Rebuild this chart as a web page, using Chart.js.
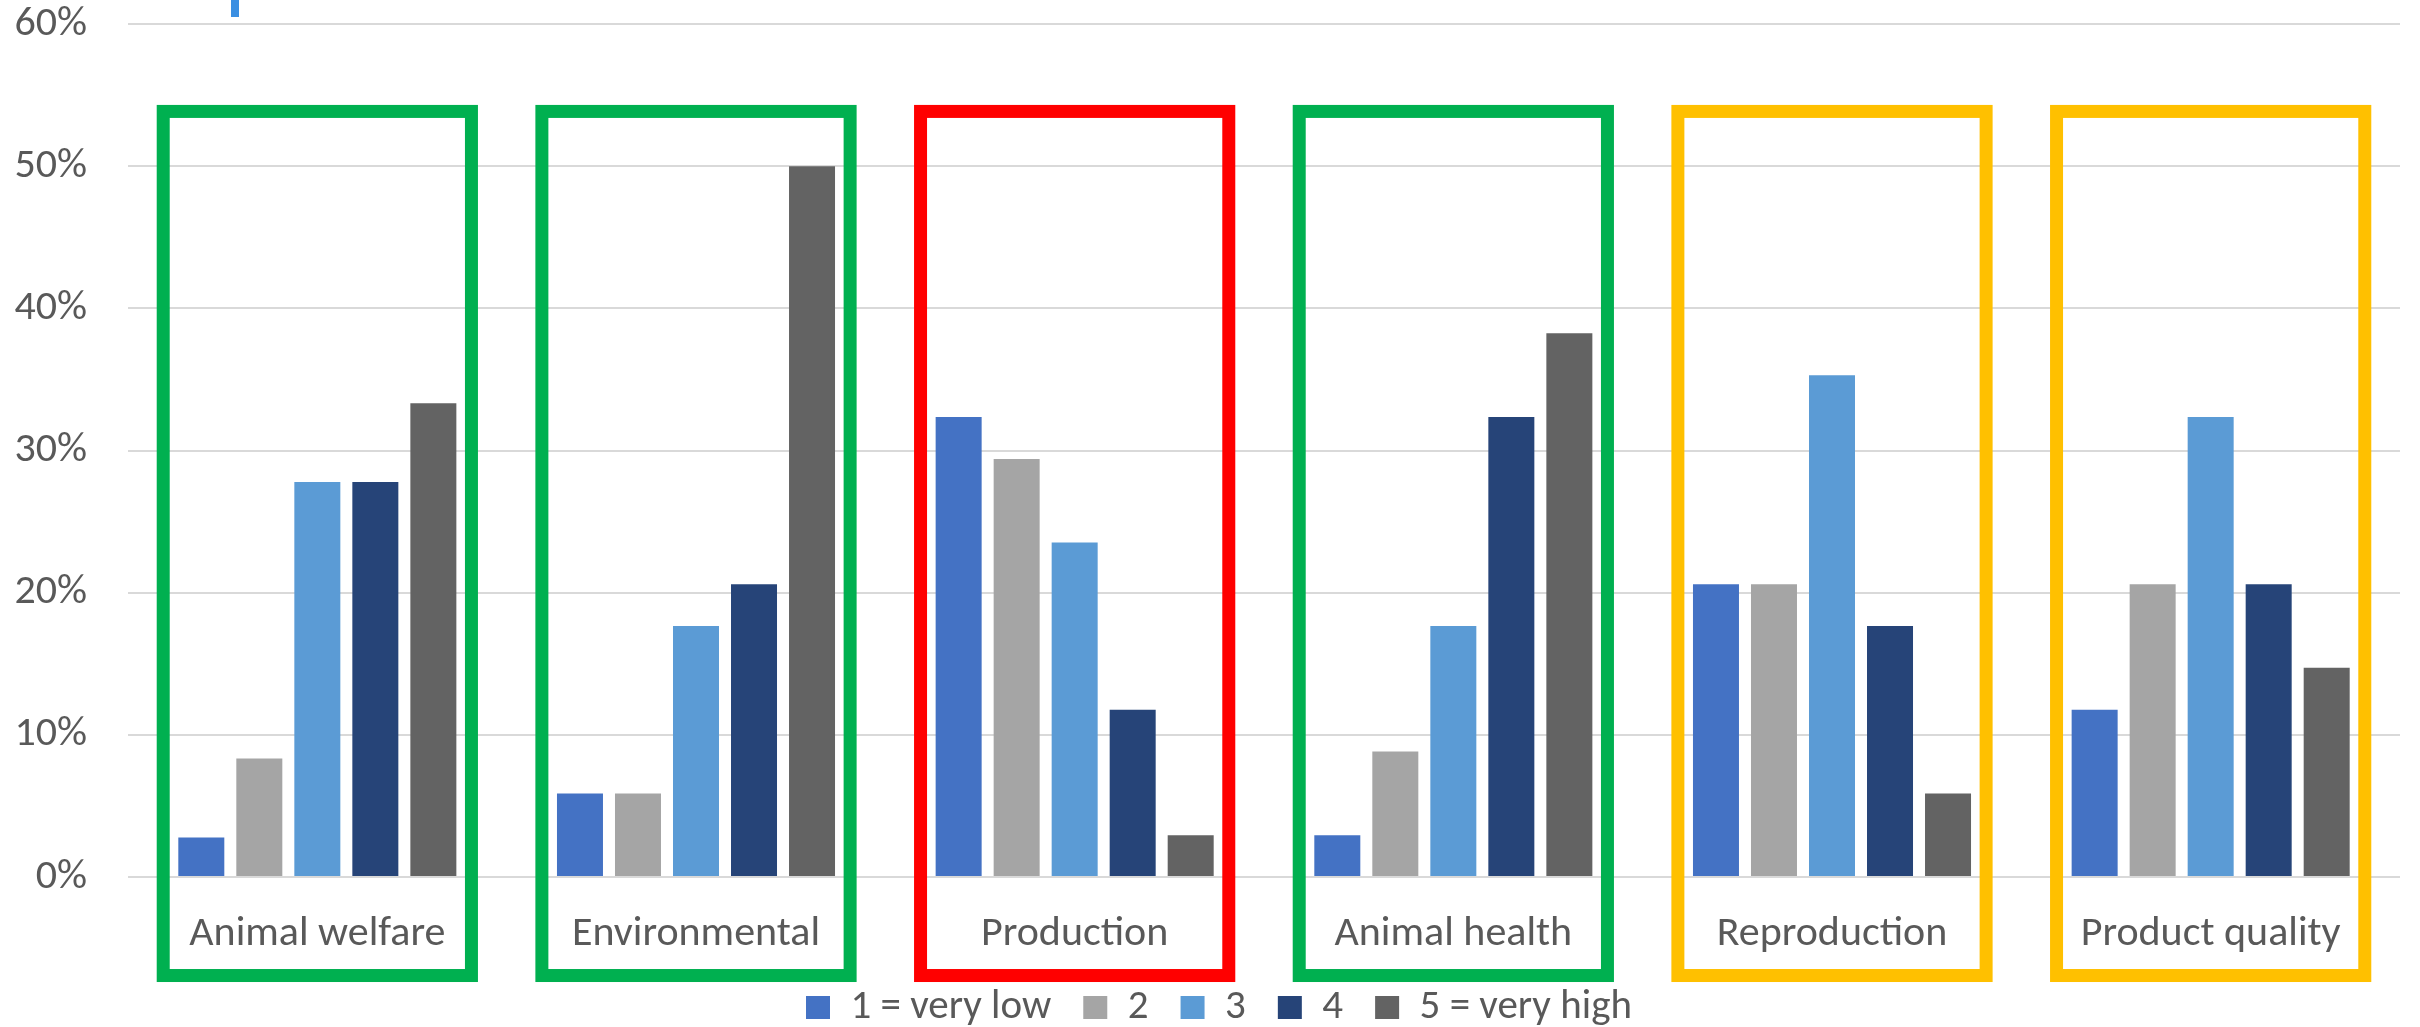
<!DOCTYPE html>
<html>
<head>
<meta charset="utf-8">
<script src="https://cdn.jsdelivr.net/npm/chart.js@4.4.1/dist/chart.umd.min.js"></script>
<style>
    html, body { margin: 0; padding: 0; background: #ffffff; }
    canvas { display: block; }
</style>
</head>
<body>
<canvas id="myChart" width="2420" height="1027"></canvas>
<script>
// categories (x axis) and rating levels (legend)
var categories = ["Animal welfare", "Environmental", "Production", "Animal health", "Reproduction", "Product quality"];
var seriesNames = ["1 = very low", "2", "3", "4", "5 = very high"];

// share of answers per rating, one array per rating level
var rating1 = [0.0278, 0.0588, 0.3235, 0.0294, 0.2059, 0.1176];
var rating2 = [0.0833, 0.0588, 0.2941, 0.0882, 0.2059, 0.2059];
var rating3 = [0.2778, 0.1765, 0.2353, 0.1765, 0.3529, 0.3235];
var rating4 = [0.2778, 0.2059, 0.1176, 0.3235, 0.1765, 0.2059];
var rating5 = [0.3333, 0.5000, 0.0294, 0.3824, 0.0588, 0.1471];

var yTickLabels = ["0%", "10%", "20%", "30%", "40%", "50%", "60%"];

var barColors = ["#4472C4", "#A5A5A5", "#5B9BD5", "#264478", "#636363"];
var boxColors = ["#00B050", "#00B050", "#FF0000", "#00B050", "#FFC000", "#FFC000"];

var textColor = "#595959";
var fontFamily = "Carlito, Calibri, 'Open Sans', sans-serif";

var series = [rating1, rating2, rating3, rating4, rating5];
var datasets = series.map(function (values, i) {
    return {
        label: seriesNames[i],
        data: values,
        backgroundColor: barColors[i],
        borderWidth: 0,
        categoryPercentage: 0.766,
        barPercentage: 0.793
    };
});

// coloured frames round every category, drawn from the scales
var boxPlugin = {
    id: "categoryBoxes",
    afterLayout: function (chart) {
        // legend sits a little right of the canvas centre
        chart.legend.left = 38;
    },
    afterDraw: function (chart) {
        var ctx = chart.ctx;
        var xs = chart.scales.x;
        var ys = chart.scales.y;
        var half = xs.width / categories.length * 0.407;
        var top = ys.getPixelForValue(0.5385);
        var bottom = ys.getPixelForValue(-0.0693);

        ctx.save();
        ctx.lineWidth = 13;
        ctx.lineJoin = "miter";
        for (var i = 0; i < categories.length; i++) {
            var cx = xs.getPixelForValue(i);
            ctx.strokeStyle = boxColors[i];
            ctx.strokeRect(cx - half, top, half * 2, bottom - top);
        }
        // small blue stub cut off at the top edge of the picture
        ctx.fillStyle = "#3B8FE2";
        ctx.fillRect(chart.chartArea.left + 103, 0, 8, 17);
        ctx.restore();
    }
};

new Chart(document.getElementById("myChart"), {
    type: "bar",
    data: {
        labels: categories,
        datasets: datasets
    },
    plugins: [boxPlugin],
    options: {
        responsive: false,
        animation: false,
        devicePixelRatio: 1,
        layout: { padding: { top: 24, right: 20, bottom: -11, left: 0 } },
        scales: {
            x: {
                grid: { display: false, drawTicks: false },
                border: { display: false },
                ticks: {
                    color: textColor,
                    font: { family: fontFamily, size: 42 },
                    padding: 32,
                    maxRotation: 0,
                    autoSkip: false
                },
                afterFit: function (scale) { scale.height = 78; }
            },
            y: {
                min: 0,
                max: 0.6,
                grid: { color: "#D9D9D9", lineWidth: 2, drawTicks: false },
                border: { display: false },
                ticks: {
                    stepSize: 0.1,
                    color: textColor,
                    font: { family: fontFamily, size: 42 },
                    padding: 41,
                    callback: function (value, index) { return yTickLabels[index]; }
                },
                afterFit: function (scale) {
                    scale.width = 128;
                    scale.paddingTop = 0;
                    scale.paddingBottom = 0;
                }
            }
        },
        plugins: {
            legend: {
                position: "bottom",
                labels: {
                    color: textColor,
                    font: { family: fontFamily, size: 41 },
                    boxWidth: 24,
                    boxHeight: 23,
                    padding: 32
                }
            },
            tooltip: { enabled: false }
        }
    }
});
</script>
</body>
</html>
